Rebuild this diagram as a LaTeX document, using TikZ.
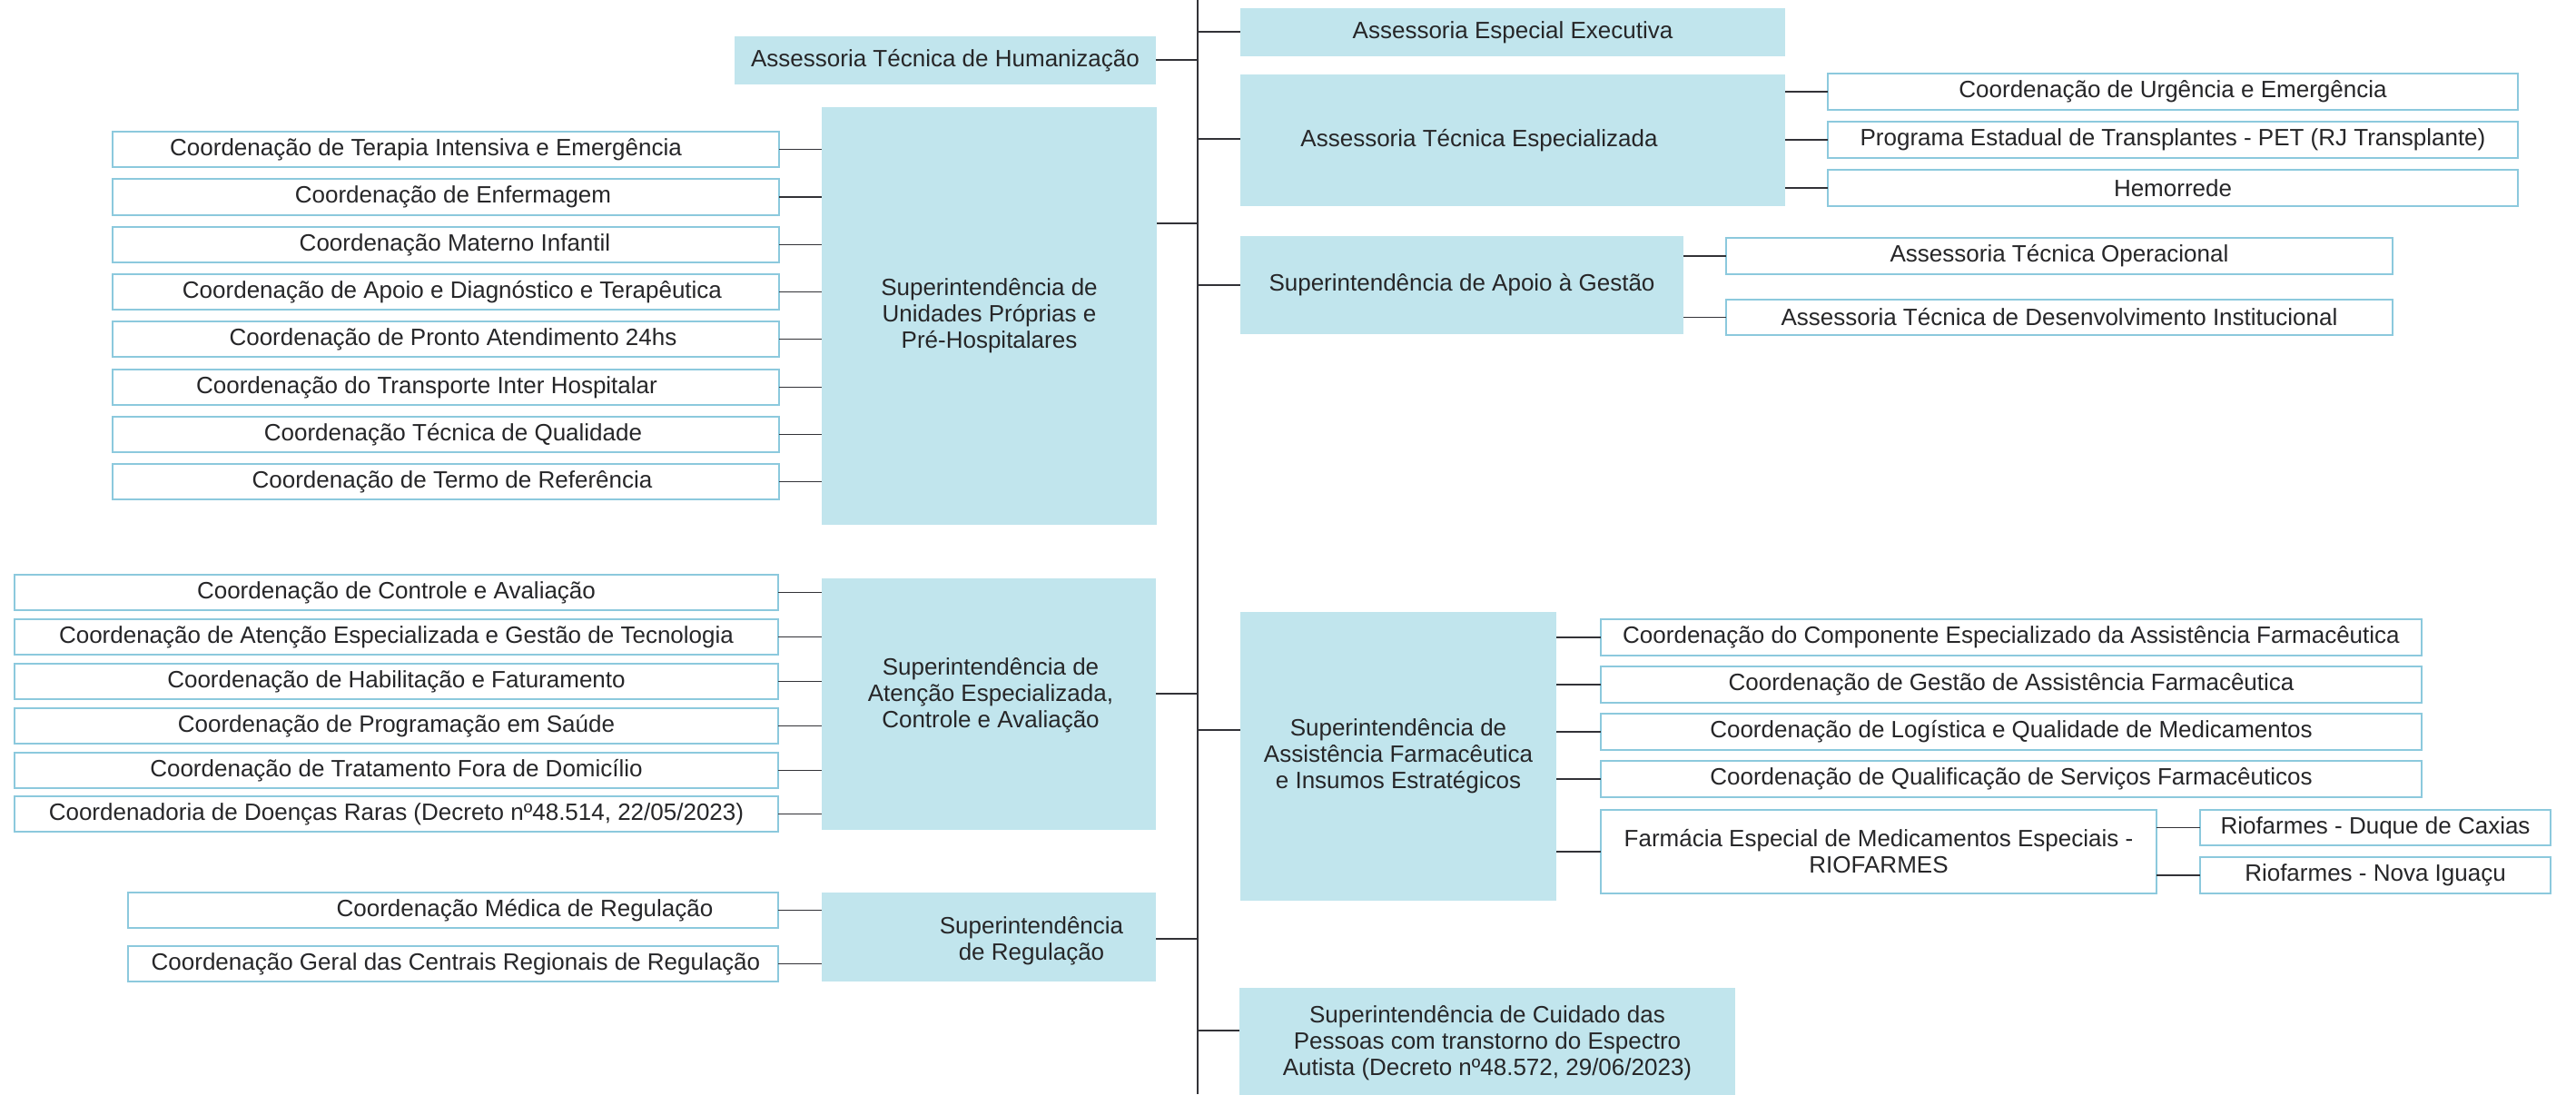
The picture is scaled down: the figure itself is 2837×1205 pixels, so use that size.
\documentclass[tikz,border=0pt]{standalone}
\usepackage{fontspec}
\setmainfont{Liberation Sans}
\definecolor{supfill}{RGB}{193,229,237}
\definecolor{cborder}{RGB}{140,201,221}
\definecolor{txt}{RGB}{38,38,40}
\definecolor{lin}{RGB}{50,50,55}
\tikzset{
  base/.style={rectangle, inner sep=0pt, outer sep=0pt, align=center, text=txt, font=\fontsize{26}{29}\selectfont},
  supbox/.style={base, fill=supfill},
  cbox/.style={base, draw=cborder, line width=2.7pt, fill=white},
  lab/.style={base},
  conn/.style={draw=lin, line width=1.9pt},
  spine/.style={draw=lin, line width=2.6pt},
}
% \orgbox[opts]{style}{name}{x1}{y1}{x2}{y2}{text}
\newcommand\orgbox[8][]{\node[#2, minimum width={(#6-#4)*1pt}, minimum height={(#7-#5)*1pt}, #1] (#3) at ({(#4+#6)/2},{(#5+#7)/2}) {#8};}
\newcommand\lkL[2]{\draw[conn] (#1.east) -- (#1.east -| #2.west);}
\newcommand\lkR[2]{\draw[conn] (#2.west -| #1.east) -- (#2.west);}
\begin{document}
\begin{tikzpicture}[x=1pt,y=-1pt]
\useasboundingbox (0,0) rectangle (2837,1205);
\fill[white] (0,0) rectangle (2837,1205);

% spine
\coordinate (sp-top) at (1319,0);
\coordinate (sp-bot) at (1319,1205);

% superintendency / assessoria boxes
\orgbox{supbox}{hum}{809}{40}{1273}{93}{Assessoria Técnica de Humanização}
\orgbox{supbox}{uni}{905}{118}{1274}{578}{Superintendência de\\Unidades Próprias e\\Pré-Hospitalares}
\orgbox{supbox}{ate}{905}{637}{1273}{914}{}
\node[lab] (ate-t) at (1091,766) {Superintendência de\\Atenção Especializada,\\Controle e Avaliação};
\orgbox{supbox}{reg}{905}{983}{1273}{1081}{}
\node[lab] (reg-t) at (1136,1036) {Superintendência\\de Regulação};
\orgbox{supbox}{exe}{1366}{9}{1966}{62}{Assessoria Especial Executiva}
\orgbox{supbox}{esp}{1366}{82}{1966}{227}{Assessoria Técnica Especializada\hspace*{74pt}}
\orgbox{supbox}{apo}{1366}{260}{1854}{368}{Superintendência de Apoio à Gestão}
\orgbox{supbox}{far}{1366}{674}{1714}{992}{Superintendência de\\Assistência Farmacêutica\\e Insumos Estratégicos}
\orgbox{supbox}{cui}{1365}{1088}{1911}{1210}{Superintendência de Cuidado das\\Pessoas com transtorno do Espectro\\Autista (Decreto nº48.572, 29/06/2023)}

% top-left coordinations
\orgbox{cbox}{t1}{124}{145}{858}{184}{Coordenação de Terapia Intensiva e Emergência\hspace*{44pt}}
\orgbox{cbox}{t2}{124}{197}{858}{237}{\hspace*{16pt}Coordenação de Enfermagem}
\orgbox{cbox}{t3}{124}{250}{858}{289}{\hspace*{20pt}Coordenação Materno Infantil}
\orgbox{cbox}{t4}{124}{302}{858}{341}{\hspace*{14pt}Coordenação de Apoio e Diagnóstico e Terapêutica}
\orgbox{cbox}{t5}{124}{354}{858}{393}{\hspace*{16pt}Coordenação de Pronto Atendimento 24hs}
\orgbox{cbox}{t6}{124}{407}{858}{446}{Coordenação do Transporte Inter Hospitalar\hspace*{42pt}}
\orgbox{cbox}{t7}{124}{459}{858}{498}{\hspace*{16pt}Coordenação Técnica de Qualidade}
\orgbox{cbox}{t8}{124}{511}{858}{550}{\hspace*{14pt}Coordenação de Termo de Referência}

% mid-left coordinations
\orgbox{cbox}{m1}{16}{633}{857}{672}{Coordenação de Controle e Avaliação}
\orgbox{cbox}{m2}{16}{682}{857}{721}{Coordenação de Atenção Especializada e Gestão de Tecnologia}
\orgbox{cbox}{m3}{16}{731}{857}{770}{Coordenação de Habilitação e Faturamento}
\orgbox{cbox}{m4}{16}{780}{857}{819}{Coordenação de Programação em Saúde}
\orgbox{cbox}{m5}{16}{829}{857}{868}{Coordenação de Tratamento Fora de Domicílio}
\orgbox{cbox}{m6}{16}{877}{857}{916}{Coordenadoria de Doenças Raras (Decreto nº48.514, 22/05/2023)}

% regulation coordinations
\orgbox{cbox}{r1}{141}{983}{857}{1022}{\hspace*{158pt}Coordenação Médica de Regulação}
\orgbox{cbox}{r2}{141}{1042}{857}{1081}{\hspace*{6pt}Coordenação Geral das Centrais Regionais de Regulação}

% right-top coordinations
\orgbox{cbox}{e1}{2013}{81}{2773}{121}{Coordenação de Urgência e Emergência}
\orgbox{cbox}{e2}{2013}{134}{2773}{174}{Programa Estadual de Transplantes - PET (RJ Transplante)}
\orgbox{cbox}{e3}{2013}{187}{2773}{227}{Hemorrede}

% apoio
\orgbox{cbox}{a1}{1901}{262}{2635}{302}{Assessoria Técnica Operacional}
\orgbox{cbox}{a2}{1901}{330}{2635}{369}{Assessoria Técnica de Desenvolvimento Institucional}

% farmaceutica
\orgbox{cbox}{f1}{1763}{682}{2667}{722}{Coordenação do Componente Especializado da Assistência Farmacêutica}
\orgbox{cbox}{f2}{1763}{734}{2667}{774}{Coordenação de Gestão de Assistência Farmacêutica}
\orgbox{cbox}{f3}{1763}{786}{2667}{826}{Coordenação de Logística e Qualidade de Medicamentos}
\orgbox{cbox}{f4}{1763}{838}{2667}{878}{Coordenação de Qualificação de Serviços Farmacêuticos}
\orgbox{cbox}{f5}{1763}{892}{2375}{984}{Farmácia Especial de Medicamentos Especiais -\\RIOFARMES}
\orgbox{cbox}{g1}{2423}{892}{2809}{931}{Riofarmes - Duque de Caxias}
\orgbox{cbox}{g2}{2423}{944}{2809}{984}{Riofarmes - Nova Iguaçu}

% spine and its junctions
\draw[spine] (sp-top) -- (sp-bot);
\foreach \n/\yy in {exe/35, esp/153, apo/314, far/804, cui/1135} {
  \coordinate (j-\n) at (1319,\yy);
  \draw[conn] (j-\n) -- (j-\n -| \n.west);
}
\foreach \n/\yy in {hum/66, uni/246, ate/764, reg/1034} {
  \coordinate (j-\n) at (1319,\yy);
  \draw[conn] (j-\n) -- (j-\n -| \n.east);
}

% child connectors
\foreach \c in {t1,t2,t3,t4,t5,t6,t7,t8} {\lkL{\c}{uni}}
\foreach \c in {m1,m2,m3,m4,m5,m6} {\lkL{\c}{ate}}
\foreach \c in {r1,r2} {\lkL{\c}{reg}}
\foreach \c in {e1,e2,e3} {\lkR{esp}{\c}}
\foreach \c in {a1,a2} {\lkR{apo}{\c}}
\foreach \c in {f1,f2,f3,f4,f5} {\lkR{far}{\c}}
\foreach \c in {g1,g2} {\lkR{f5}{\c}}
\end{tikzpicture}
\end{document}
